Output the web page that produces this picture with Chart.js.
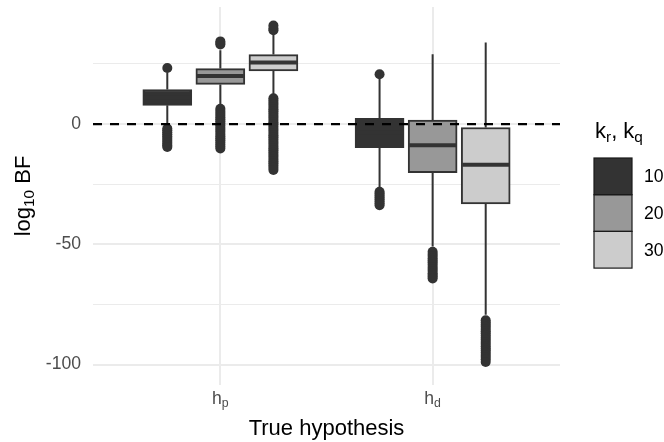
<!DOCTYPE html>
<html><head><meta charset="utf-8">
<script src="https://cdn.jsdelivr.net/npm/chart.js@4"></script>
<style>html,body{margin:0;padding:0;background:#fff;} #wrap{width:664px;height:442px;position:relative;}</style>
</head><body><div id="wrap"><canvas id="c"></canvas></div>
<script>
// ---- data ----
const categories = ['hp', 'hd'];
const xTickBase = ['h', 'h'];
const xTickSub = ['p', 'd'];
const groupLabels = ['10', '20', '30'];
const yTickValues = [-100, -50, 0];
// per group (10, 20, 30): [hp, hd]
const whiskerLow  = [[-0.8, -26.5], [7.0, -50.9], [12.0, -79.3]];
const q1          = [[7.8, -9.8], [16.5, -20.2], [22.1, -33.2]];
const median      = [[11.0, -3.5], [20.0, -8.8], [25.6, -16.9]];
const q3          = [[14.4, 2.4], [23.1, 1.7], [28.9, -1.4]];
const whiskerHigh = [[21.5, 19.5], [30.7, 29.0], [37.5, 33.9]];
const outliers10 = [
  [23.3, -1.8, -2.6, -3.4, -4.2, -5.0, -5.8, -6.6, -7.4, -8.2, -8.9, -9.5],
  [20.7, -28.1, -28.9, -29.7, -30.5, -31.3, -32.1, -32.9, -33.7]
];
const outliers20 = [
  [33.1, 33.7, 34.4, 6.4, 5.5, 4.6, 3.8, 2.9, 2.0, 1.2, 0.3, -0.6, -1.5, -2.4, -3.2, -4.1, -5.0, -5.9, -6.7, -7.6, -8.5, -9.3, -10.1],
  [-53.1, -54.0, -54.9, -55.8, -56.7, -57.6, -58.5, -59.4, -60.3, -61.1, -62.0, -62.8, -63.5, -64.2]
];
const outliers30 = [
  [39.0, 39.8, 41.0, 10.7, 9.8, 8.9, 8.0, 7.1, 6.2, 5.3, 4.4, 3.5, 2.6, 1.7, 0.8, -0.1, -1.0, -1.9, -2.8, -3.7, -4.6, -5.5, -6.4, -7.3, -8.2, -9.1, -10.0, -10.9, -11.8, -12.7, -13.6, -14.5, -15.4, -16.3, -17.2, -18.1, -19.1],
  [-81.6, -82.5, -83.4, -84.3, -85.2, -86.1, -87.0, -87.9, -88.8, -89.7, -90.6, -91.5, -92.4, -93.3, -94.2, -95.1, -96.0, -96.9, -97.8, -98.9]
];
const outliers = [outliers10, outliers20, outliers30];
const refLine = 0;

// ---- style ----
const fills = ['#333333', '#989898', '#CCCCCC'];
const ink = '#333333';
const FONT = '"Liberation Sans", Arial, Helvetica, sans-serif';
const dodge = 0.25;
const gridCol = '#EBEBEB';

function drawSub(ctx, parts, x, y, align) {
  let total = 0;
  parts.forEach(p => { ctx.font = p[1] + 'px ' + FONT; total += ctx.measureText(p[0]).width; });
  let cx = align === 'center' ? x - total / 2 : x;
  ctx.textAlign = 'left';
  parts.forEach(p => {
    ctx.font = p[1] + 'px ' + FONT;
    ctx.fillText(p[0], cx, y + p[2]);
    cx += ctx.measureText(p[0]).width;
  });
}

const extras = {
  id: 'boxExtras',
  beforeDatasetsDraw(chart) {
    const ctx = chart.ctx, ys = chart.scales.y;
    ctx.save();
    ctx.strokeStyle = ink; ctx.lineWidth = 2;
    groupLabels.forEach((g, i) => {
      chart.getDatasetMeta(i).data.forEach((bar, j) => {
        ctx.beginPath();
        ctx.moveTo(bar.x, ys.getPixelForValue(q3[i][j]));
        ctx.lineTo(bar.x, ys.getPixelForValue(whiskerHigh[i][j]));
        ctx.moveTo(bar.x, ys.getPixelForValue(q1[i][j]));
        ctx.lineTo(bar.x, ys.getPixelForValue(whiskerLow[i][j]));
        ctx.stroke();
      });
    });
    ctx.restore();
  },
  afterDatasetsDraw(chart) {
    const ctx = chart.ctx, ys = chart.scales.y, a = chart.chartArea;
    ctx.save();
    ctx.strokeStyle = ink; ctx.lineWidth = 4;
    groupLabels.forEach((g, i) => {
      chart.getDatasetMeta(i).data.forEach((bar, j) => {
        const y = ys.getPixelForValue(median[i][j]);
        ctx.beginPath();
        ctx.moveTo(bar.x - bar.width / 2 + 1, y);
        ctx.lineTo(bar.x + bar.width / 2 - 1, y);
        ctx.stroke();
      });
    });
    const y0 = ys.getPixelForValue(refLine);
    ctx.strokeStyle = '#000'; ctx.lineWidth = 2.4; ctx.setLineDash([9, 8]);
    ctx.beginPath(); ctx.moveTo(a.left, y0); ctx.lineTo(a.right, y0); ctx.stroke();
    ctx.restore();
  },
  afterDraw(chart) {
    const ctx = chart.ctx, a = chart.chartArea, xs = chart.scales.x;
    ctx.save();
    ctx.textBaseline = 'alphabetic';
    ctx.fillStyle = '#4D4D4D';
    categories.forEach((c, j) => {
      const x = xs.getPixelForValue(j);
      drawSub(ctx, [[xTickBase[j], 17.6, 0], [xTickSub[j], 12.3, 3]], x, 404, 'center');
    });
    ctx.fillStyle = '#000';
    drawSub(ctx, [['True hypothesis', 22, 0]], (a.left + a.right) / 2, 435, 'center');
    ctx.save();
    ctx.translate(30, (a.top + a.bottom) / 2);
    ctx.rotate(-Math.PI / 2);
    drawSub(ctx, [['log', 22, 0], ['10', 15.4, 3.5], [' BF', 22, 0]], 0, 0, 'center');
    ctx.restore();
    drawSub(ctx, [['k', 22, 0], ['r', 15.4, 3.5], [', k', 22, 0], ['q', 15.4, 3.5]], 595, 138, 'left');
    const kx = 594, kw = 38, ky = 158, kh = 36.7;
    groupLabels.forEach((g, i) => {
      ctx.fillStyle = fills[i];
      ctx.fillRect(kx, ky + i * kh, kw, kh);
    });
    ctx.strokeStyle = '#1a1a1a'; ctx.lineWidth = 1.2;
    groupLabels.forEach((g, i) => { ctx.strokeRect(kx, ky + i * kh, kw, kh); });
    ctx.fillStyle = '#000';
    ctx.textBaseline = 'middle';
    groupLabels.forEach((g, i) => {
      ctx.font = '17.6px ' + FONT; ctx.textAlign = 'left';
      ctx.fillText(g, 644, ky + i * kh + kh / 2 + 1);
    });
    ctx.restore();
  }
};

const datasets = [];
groupLabels.forEach((g, i) => {
  datasets.push({
    type: 'bar', label: g,
    data: categories.map((c, j) => ({ x: j + (i - 1) * dodge, y: [q1[i][j], q3[i][j]] })),
    backgroundColor: fills[i], borderColor: ink, borderWidth: 2, borderSkipped: false,
    grouped: false, barThickness: 49,
    xAxisID: 'x', yAxisID: 'y', order: 1
  });
});
groupLabels.forEach((g, i) => {
  const pts = [];
  categories.forEach((c, j) => {
    outliers[i][j].forEach(v => pts.push({ x: j + (i - 1) * dodge, y: v }));
  });
  datasets.push({
    type: 'scatter', label: g + ' outliers', data: pts,
    pointRadius: 5, pointBackgroundColor: ink, pointBorderWidth: 0, pointHoverRadius: 5,
    xAxisID: 'x', yAxisID: 'y', order: 2
  });
});

new Chart(document.getElementById('c'), {
  type: 'bar',
  data: { datasets },
  plugins: [extras],
  options: {
    responsive: true, maintainAspectRatio: false, animation: false,
    devicePixelRatio: 1,
    layout: { padding: { left: 0, right: 104, top: 7, bottom: 0 } },
    plugins: { legend: { display: false }, tooltip: { enabled: false } },
    scales: {
      x: {
        type: 'linear', offset: false, min: -0.6, max: 1.6,
        afterFit: (s) => { s.height = 57; s.paddingLeft = 0; s.paddingRight = 0; },
        grid: { color: gridCol, lineWidth: 2, drawTicks: false, offset: false },
        border: { display: false },
        ticks: { display: false, stepSize: 1, includeBounds: false }
      },
      y: {
        type: 'linear', min: -108.5, max: 48.7, beginAtZero: false,
        afterFit: (s) => { s.width = 93; s.paddingTop = 0; s.paddingBottom = 0; },
        grid: {
          color: gridCol, drawTicks: false,
          lineWidth: (c) => (c.tick && yTickValues.includes(c.tick.value)) ? 2 : 1
        },
        border: { display: false },
        ticks: {
          stepSize: 25, includeBounds: false, padding: 12,
          color: '#4D4D4D', font: { family: FONT, size: 17.6 },
          callback: (v) => yTickValues.includes(v) ? String(v) : ''
        }
      }
    }
  }
});
</script>
</body></html>
